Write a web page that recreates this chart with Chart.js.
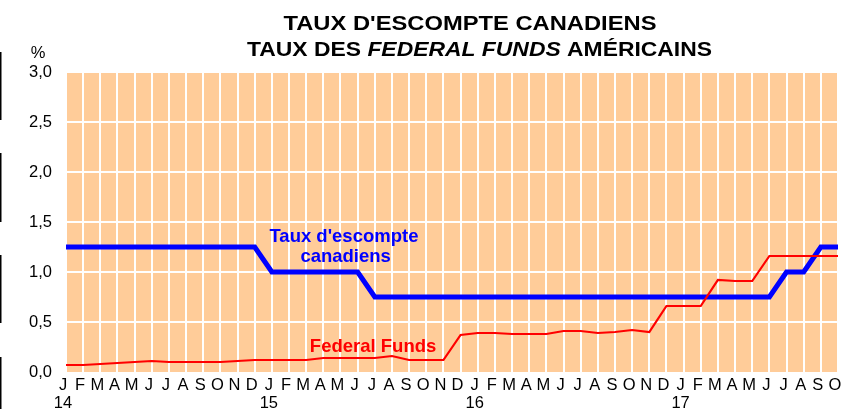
<!DOCTYPE html>
<html><head><meta charset="utf-8">
<script src="https://cdn.jsdelivr.net/npm/chart.js@4/dist/chart.umd.min.js"></script>
<style>html,body{margin:0;padding:0;background:#fff}#wrap{width:844px;height:409px;position:relative}</style>
</head><body><div id="wrap"><canvas id="c"></canvas></div>
<script>
// ---- data ----
const monthLetters = ['J','F','M','A','M','J','J','A','S','O','N','D'];
const yearLabels = ['14','15','16','17'];
const monthCount = 46; // Jan 2014 .. Oct 2017
const canadianRate = [
  1.25,1.25,1.25,1.25,1.25,1.25,1.25,1.25,1.25,1.25,1.25,1.25,
  1.00,1.00,1.00,1.00,1.00,1.00,0.75,0.75,0.75,0.75,0.75,0.75,
  0.75,0.75,0.75,0.75,0.75,0.75,0.75,0.75,0.75,0.75,0.75,0.75,
  0.75,0.75,0.75,0.75,0.75,0.75,1.00,1.00,1.25,1.25
];
const fedFunds = [
  0.07,0.07,0.08,0.09,0.10,0.11,0.10,0.10,0.10,0.10,0.11,0.12,
  0.12,0.12,0.12,0.14,0.14,0.14,0.14,0.16,0.12,0.12,0.12,0.37,
  0.39,0.39,0.38,0.38,0.38,0.41,0.41,0.39,0.40,0.42,0.40,0.66,
  0.66,0.66,0.92,0.91,0.91,1.16,1.16,1.16,1.16,1.16
];
const yTickValues = [0,0.5,1.0,1.5,2.0,2.5,3.0];
const seriesNames = ['Federal Funds', "Taux d'escompte canadiens"];
const titleLine1 = "TAUX D'ESCOMPTE CANADIENS";
const titleLine2 = [["TAUX DES ", false], ["FEDERAL FUNDS", true], [" AMÉRICAINS", false]];
const unitLabel = '%';
// inline series labels: text, category index, value (baseline)
const seriesLabels = [
  {text: "Taux d'escompte", x: 16.2, y: 1.30, color: '#0000FF'},
  {text: 'canadiens',       x: 16.3, y: 1.10, color: '#0000FF'},
  {text: 'Federal Funds',   x: 17.9, y: 0.20, color: '#FF0000'}
];

const labels = [];
for (let i = 0; i < monthCount; i++) {
  const m = i % 12, y = Math.floor(i / 12);
  labels.push(m === 0 ? [monthLetters[m], yearLabels[y]] : monthLetters[m]);
}

const FONT = '"Liberation Sans", Arial, sans-serif';

function drawStretched(ctx, parts, cx, baseline, targetW, size) {
  let total = 0;
  const m = parts.map(([t, it]) => {
    ctx.font = (it ? 'italic bold ' : 'bold ') + size + 'px ' + FONT;
    const w = ctx.measureText(t).width; total += w; return [t, it, w];
  });
  const sx = targetW / total;
  ctx.save();
  ctx.translate(cx - targetW / 2, baseline);
  ctx.scale(sx, 1);
  ctx.textAlign = 'left';
  ctx.textBaseline = 'alphabetic';
  let x = 0;
  m.forEach(([t, it, w]) => {
    ctx.font = (it ? 'italic bold ' : 'bold ') + size + 'px ' + FONT;
    ctx.fillText(t, x, 0); x += w;
  });
  ctx.restore();
}

const decorPlugin = {
  id: 'decor',
  beforeDraw(chart) {
    const {ctx, chartArea: a} = chart;
    ctx.save();
    ctx.fillStyle = '#FFCC99';
    ctx.fillRect(a.left, a.top, a.right - a.left, a.bottom - a.top);
    ctx.restore();
  },
  afterDraw(chart) {
    const {ctx, scales} = chart;
    ctx.save();
    ctx.fillStyle = '#000';
    // title
    drawStretched(ctx, [[titleLine1, false]], 470, 29.5, 373, 21);
    drawStretched(ctx, titleLine2, 479.5, 55.5, 465, 21);
    // unit
    ctx.textAlign = 'center';
    ctx.textBaseline = 'alphabetic';
    ctx.font = '16.5px ' + FONT;
    ctx.fillText(unitLabel, 38, 58);
    // series labels
    ctx.font = 'bold 18.5px ' + FONT;
    seriesLabels.forEach(l => {
      ctx.fillStyle = l.color;
      ctx.fillText(l.text, scales.x.getPixelForValue(l.x), scales.y.getPixelForValue(l.y));
    });
    // left edge marks
    ctx.fillStyle = '#000';
    [[52,120],[153,222],[255,323],[357,409]].forEach(([a,b]) => ctx.fillRect(0, a, 1.5, b - a));
    ctx.restore();
  }
};

new Chart(document.getElementById('c'), {
  type: 'line',
  data: {
    labels,
    datasets: [
      {label: seriesNames[0], data: fedFunds, borderColor: '#FF0000', borderWidth: 2.2,
       pointRadius: 0, tension: 0, fill: false},
      {label: seriesNames[1], data: canadianRate, borderColor: '#0000FF', borderWidth: 5,
       pointRadius: 0, tension: 0, fill: false, borderJoinStyle: 'miter'}
    ]
  },
  options: {
    responsive: true, maintainAspectRatio: false, animation: false, devicePixelRatio: 1,
    layout: {padding: {left: 0, right: 6, top: 72, bottom: 0}},
    plugins: {legend: {display: false}, title: {display: false}, tooltip: {enabled: false}},
    scales: {
      x: {
        type: 'category', offset: false,
        grid: {color: '#FFFFFF', lineWidth: 2, drawTicks: false},
        border: {display: false},
        ticks: {autoSkip: false, maxRotation: 0, minRotation: 0, color: '#000', padding: 5,
                labelOffset: -3, font: {family: FONT, size: 16.5, lineHeight: 1.05}},
        afterFit: s => { s.height = 37; s.paddingLeft = 0; s.paddingRight = 0; }
      },
      y: {
        min: 0, max: 3,
        afterBuildTicks: s => { s.ticks = yTickValues.map(v => ({value: v})); },
        grid: {color: c => (c.tick && c.tick.value === 0) ? 'rgba(0,0,0,0)' : '#FFFFFF',
               lineWidth: 2, drawTicks: false},
        border: {display: false},
        ticks: {color: '#000', padding: 14, font: {family: FONT, size: 16.5},
                callback: v => v.toFixed(1).replace('.', ',')},
        afterFit: s => { s.width = 66; s.paddingTop = 0; s.paddingBottom = 0; }
      }
    }
  },
  plugins: [decorPlugin]
});
</script></body></html>
